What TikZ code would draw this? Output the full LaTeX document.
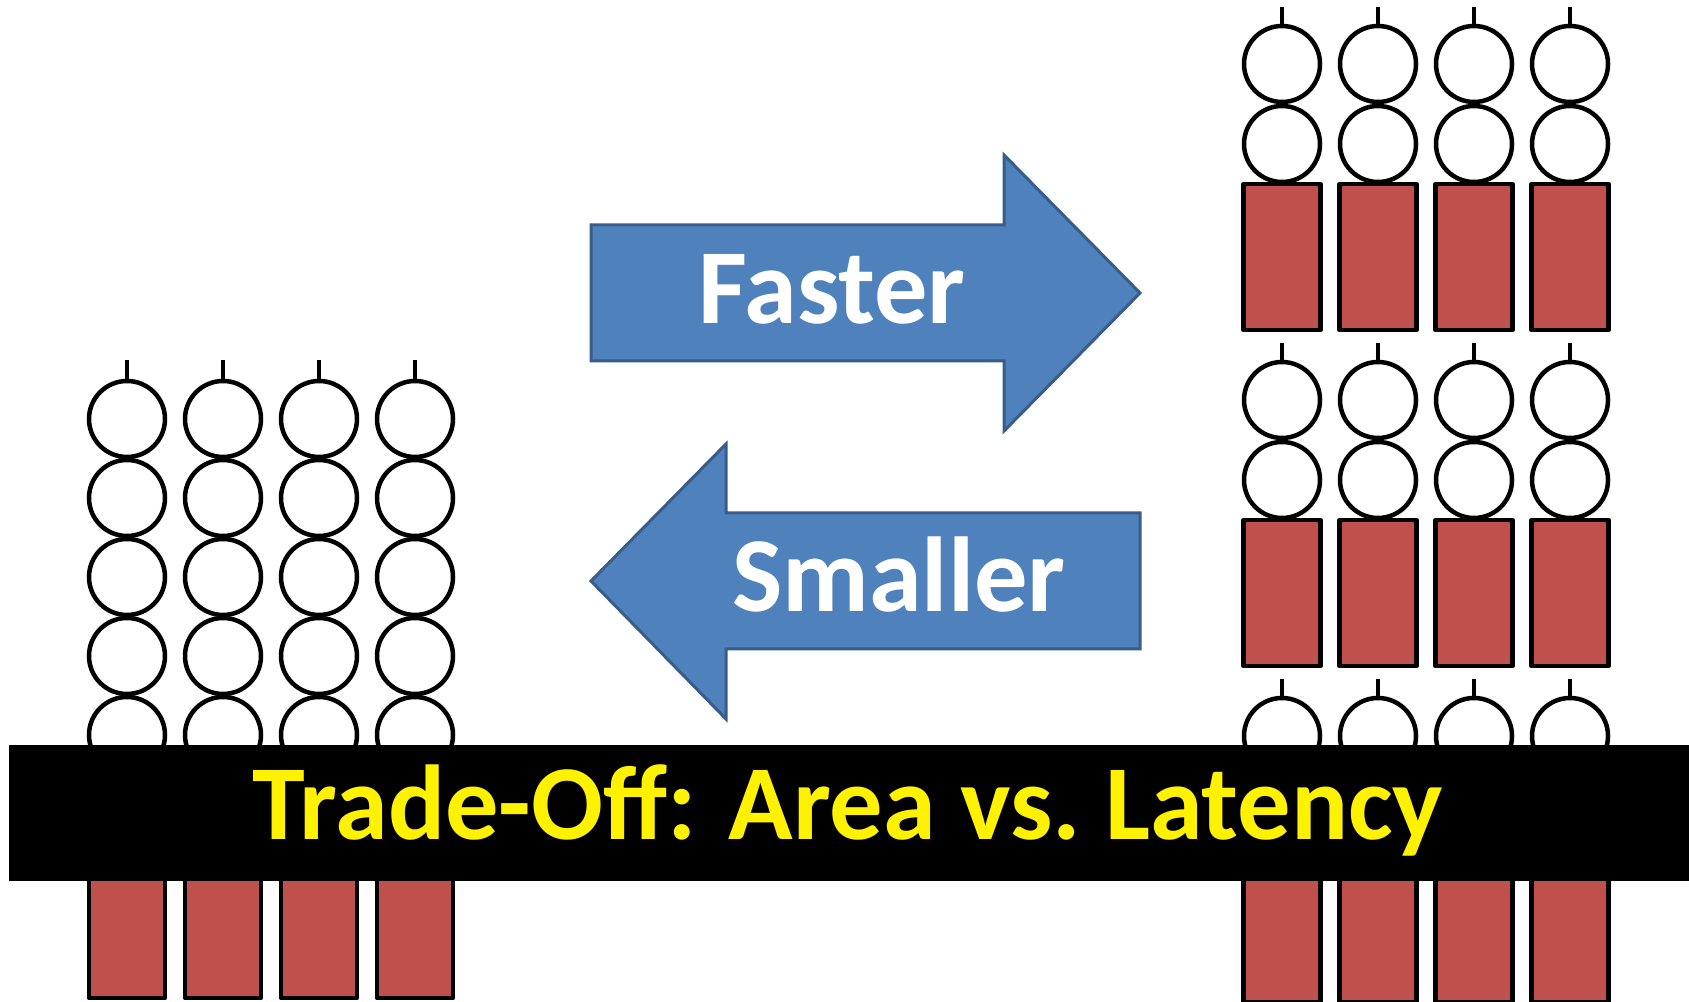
\documentclass[tikz,border=0pt]{standalone}
\usepackage{fontspec}
\setmainfont{Carlito}
\usepackage{tikz}
\usetikzlibrary{positioning}
\usepackage{xcolor}
\definecolor{arrowblue}{RGB}{79,129,189}
\definecolor{arrowedge}{RGB}{56,93,138}
\definecolor{blockred}{RGB}{192,80,77}

\begin{document}
\begin{tikzpicture}[bead/.style={draw=black,line width=0.045cm,fill=white},
    block/.style={draw=black,line width=0.045cm,fill=blockred,line join=round},
    stub/.style={draw=black,line width=0.045cm},
    fatarrow/.style={fill=arrowblue,draw=arrowedge,line width=0.03cm},
    every node/.style={font=\bfseries\fontsize{30.3}{30.3}\selectfont,inner sep=0pt}]
    \useasboundingbox (0,0) rectangle (16.89,10.02);
    \def\g{0.96}  % column pitch
    \def\r{0.38}  % bead radius
    % deep chain: five beads per column, one long block
    \foreach \n in {0,...,3}{
      \draw[stub] (1.27+\n*\g,6.42) -- (1.27+\n*\g,6.21);
      \foreach \i in {0,...,4}{
        \draw[bead] (1.27+\n*\g,5.83-\i*0.79) circle (\r); }
      \draw[block] (1.27+\n*\g-\r,2.29) rectangle (1.27+\n*\g+\r,0.04);
    }
    % split chain: three stages of two beads and a block
    \foreach \k in {0,1,2}{ \foreach \n in {0,...,3}{
      \draw[stub] (12.82+\n*\g,9.95-\k*3.36) -- ++(0,-0.19);
      \draw[bead] (12.82+\n*\g,9.38-\k*3.36) circle (\r);
      \draw[bead] (12.82+\n*\g,8.58-\k*3.36) circle (\r);
      \draw[block] (12.82+\n*\g-0.385,8.18-\k*3.36) rectangle ++(0.77,-1.46);
    }}
    % the two arrows
    \draw[fatarrow] (5.91,7.77) -- (10.04,7.77) -- (10.04,8.47) -- (11.40,7.09)
      -- (10.04,5.71) -- (10.04,6.41) -- (5.91,6.41) -- cycle;
    \draw[fatarrow] (11.40,4.89) -- (7.26,4.89) -- (7.26,5.58) -- (5.91,4.21)
      -- (7.26,2.83) -- (7.26,3.53) -- (11.40,3.53) -- cycle;
    \node[white,anchor=base] (faster) at (8.32,6.78) {Faster};
    \node[white,anchor=base] (smaller) at (8.99,3.90) {Smaller};
    % banner
    \fill[black] (0.09,1.21) rectangle (16.89,2.57);
    \node[yellow,anchor=base] (title) at (8.48,1.62) {Trade-Off: Area vs.\ Latency};
\end{tikzpicture}
\end{document}
